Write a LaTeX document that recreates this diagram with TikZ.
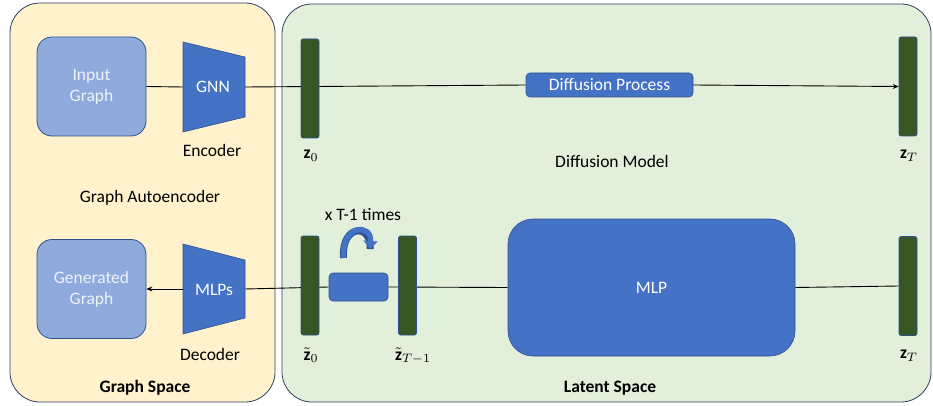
\RequirePackage{fix-cm}
\documentclass[tikz,border=0pt]{standalone}
\usepackage{fontspec}
\setmainfont{Carlito}
\usetikzlibrary{arrows.meta}
\definecolor{gsfill}{HTML}{FFF2CC}
\definecolor{lsfill}{HTML}{E2EFDA}
\definecolor{frame}{HTML}{2F3F5F}
\definecolor{lblue}{HTML}{8FAADC}
\definecolor{mblue}{HTML}{4472C4}
\definecolor{dblue}{HTML}{2F528F}
\definecolor{dgreen}{HTML}{375623}
\definecolor{ltext}{HTML}{EEF2FA}
\pgfdeclarelayer{bg}
\pgfsetlayers{bg,main}
\tikzset{
  lbl/.style={font=\fontsize{17.5}{20}\selectfont, text=black, inner sep=0pt},
  bold lbl/.style={lbl, font=\fontsize{17.5}{20}\selectfont\bfseries},
  mathlbl/.style={inner sep=0pt, scale=1.75},
  graphbox/.style={draw=dblue, fill=lblue, rounded corners=15pt, line width=0.8pt,
     minimum width=109pt, minimum height=99pt, align=center, text=ltext,
     font=\fontsize{17.5}{21}\selectfont},
  trap/.style={draw=dblue, fill=mblue, line width=0.6pt},
  bar/.style={draw=dblue, fill=dgreen, rounded corners=2pt, line width=0.6pt,
     minimum width=18pt, minimum height=99pt, inner sep=0pt},
  bluebox/.style={draw=dblue, fill=mblue, line width=0.6pt, inner sep=0pt, text=white},
  conn/.style={line width=0.9pt, black},
  arr/.style={conn, -{Stealth[length=6pt,width=5pt]}},
}
\begin{document}
\begin{tikzpicture}[x=1pt,y=-1pt]
\useasboundingbox (0,0) rectangle (933,406);
\begin{pgfonlayer}{bg}
\draw[frame, fill=gsfill, line width=0.8pt, rounded corners=30pt] (10,3) rectangle (275,402);
\draw[frame, fill=lsfill, line width=0.8pt, rounded corners=30pt] (282,4) rectangle (931,402);
\end{pgfonlayer}

% upper row
\node[graphbox] (input) at (91.5,86.5) {Input\\Graph};
\draw[trap] (183,42) -- (245,57) -- (245,117) -- (183,132) -- cycle;
\node[text=white, font=\fontsize{17.5}{20}\selectfont] (gnn) at (213,87) {GNN};
\coordinate (gnnL) at (183,87);
\coordinate (gnnR) at (245,87);
\node[lbl] (enc) at (212,150) {Encoder};

\node[bar] (z0) at (310,88.5) {};
\node[mathlbl] (z0l) at (311,156) {$\mathbf{z}_0$};

\node[bluebox, rounded corners=4pt, minimum width=167pt, minimum height=24pt,
  font=\fontsize{17.5}{20}\selectfont] (dp) at (609.5,85) {Diffusion Process};

\node[bar] (zT) at (908,86.5) {};
\node[mathlbl] (zTl) at (909,156) {$\mathbf{z}_T$};

\node[lbl] (dm) at (612,161) {Diffusion Model};
\node[lbl] (gae) at (150,198) {Graph Autoencoder};

\begin{pgfonlayer}{bg}
\draw[conn] (input.east) -- (gnnL);
\draw[conn] (gnnR) -- (dp.west);
\end{pgfonlayer}
\draw[arr] (dp.east) -- (zT.west);

% lower row
\node[graphbox] (gen) at (91.5,289) {Generated\\Graph};
\draw[trap] (183,244) -- (245,260) -- (245,318) -- (183,334) -- cycle;
\node[text=white, font=\fontsize{17.5}{20}\selectfont] (mlps) at (214,290) {MLPs};
\coordinate (mlpsL) at (183,289);
\coordinate (mlpsR) at (245,289);
\node[lbl] (dec) at (210,354) {Decoder};

\node[bar] (zt0) at (310,285.5) {};
\node[mathlbl] (zt0l) at (311,355) {$\tilde{\mathbf{z}}_0$};
\node[bluebox, rounded corners=4pt, minimum width=59pt, minimum height=28pt] (step1) at (358.5,287) {};
\node[bar] (ztT) at (407.5,285.5) {};
\node[mathlbl] (ztTl) at (413,356) {$\tilde{\mathbf{z}}_{T-1}$};

\node[lbl] (times) at (363,215) {x T-1 times};
\draw[dblue, line width=7pt] (343.5,258) .. controls (341,224) and (372,223) .. (370,249);
\draw[mblue, line width=5.4pt, -{Triangle[length=8pt,width=14pt]}] (343.5,258) .. controls (341,224) and (372,223) .. (370,249);

\node[bluebox, rounded corners=25pt, minimum width=287pt, minimum height=137pt,
  font=\fontsize{17.5}{20}\selectfont] (mlp) at (651.5,287.5) {MLP};

\node[bar] (zTb) at (908,286) {};
\node[mathlbl] (zTbl) at (909,356) {$\mathbf{z}_T$};

\begin{pgfonlayer}{bg}
\draw[conn] (mlpsR) -- (step1.west);
\draw[conn] (step1.east) -- (mlp.west);
\draw[conn] (mlp.east) -- (zTb.west);
\end{pgfonlayer}
\draw[arr] (mlpsL) -- (gen.east);

\node[bold lbl] (gs) at (145,388) {Graph Space};
\node[bold lbl] (ls) at (610,388) {Latent Space};
\end{tikzpicture}
\end{document}
